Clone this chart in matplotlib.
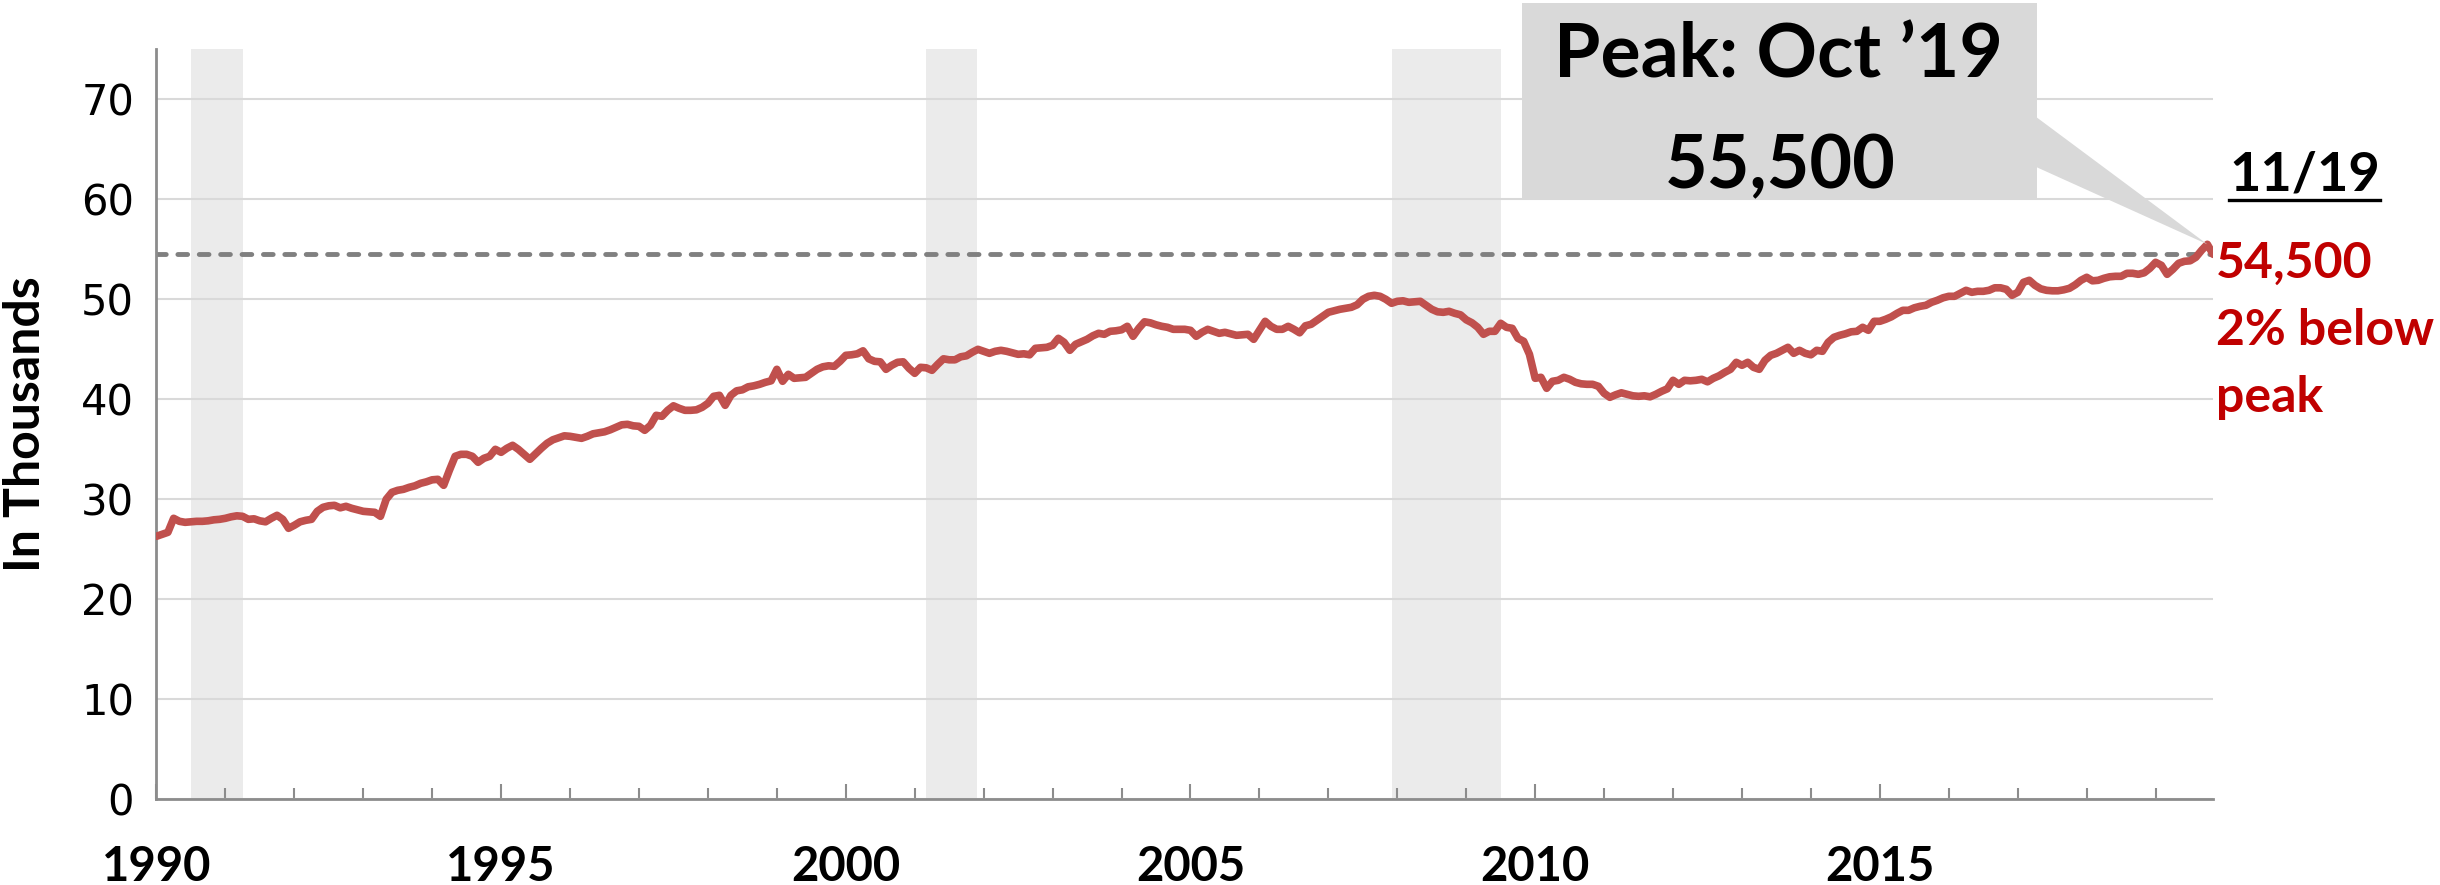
import numpy as np
import matplotlib
matplotlib.use('Agg')
import matplotlib.pyplot as plt
from matplotlib.patches import Rectangle, Polygon
from matplotlib.lines import Line2D
from matplotlib.ticker import MultipleLocator

plt.rcParams['font.family'] = ['Lato', 'DejaVu Sans']

# Monthly values, in thousands (Jan 1990 - Nov 2019)
y1990_94 = [26.3, 26.5, 26.7, 28.1, 27.8, 27.7, 27.75, 27.8, 27.8, 27.85, 27.95, 28.0,
            28.1, 28.25, 28.35, 28.3, 28.0, 28.05, 27.85, 27.75, 28.1, 28.4, 28.0, 27.1,
            27.4, 27.75, 27.9, 28.0, 28.8, 29.2, 29.35, 29.4, 29.15, 29.3, 29.1, 28.95,
            28.8, 28.75, 28.7, 28.3, 30.0, 30.7, 30.9, 31.0, 31.2, 31.35, 31.6, 31.75,
            31.95, 32.0, 31.4, 32.9, 34.3, 34.5, 34.5, 34.3, 33.7, 34.1, 34.3, 35.0]
y1995_99 = [34.7, 35.1, 35.4, 35.0, 34.5, 34.0, 34.55, 35.1, 35.6, 35.95, 36.15, 36.35,
            36.3, 36.2, 36.1, 36.3, 36.55, 36.65, 36.75, 36.95, 37.2, 37.45, 37.5, 37.35,
            37.3, 36.9, 37.4, 38.4, 38.3, 38.9, 39.35, 39.1, 38.9, 38.9, 38.95, 39.2,
            39.6, 40.3, 40.4, 39.4, 40.4, 40.85, 40.95, 41.25, 41.35, 41.5, 41.7, 41.85,
            43.0, 41.8, 42.5, 42.1, 42.15, 42.2, 42.6, 43.0, 43.25, 43.35, 43.3, 43.8]
y2000_04 = [44.4, 44.45, 44.55, 44.85, 44.05, 43.8, 43.75, 43.0, 43.4, 43.7, 43.75, 43.1,
            42.6, 43.2, 43.15, 42.9, 43.5, 44.05, 43.95, 43.95, 44.25, 44.35, 44.7, 45.0,
            44.8, 44.6, 44.8, 44.9, 44.8, 44.65, 44.5, 44.55, 44.45, 45.1, 45.15, 45.2,
            45.4, 46.1, 45.7, 44.9, 45.5, 45.75, 46.0, 46.35, 46.6, 46.5, 46.8, 46.85,
            46.95, 47.3, 46.3, 47.1, 47.75, 47.65, 47.45, 47.3, 47.2, 47.0, 47.0, 47.0]
y2005_09 = [46.9, 46.3, 46.7, 47.0, 46.8, 46.6, 46.7, 46.55, 46.4, 46.45, 46.5, 46.0,
            46.9, 47.8, 47.3, 47.0, 47.0, 47.3, 47.0, 46.65, 47.35, 47.5, 47.9, 48.3,
            48.7, 48.85, 49.0, 49.1, 49.2, 49.45, 50.0, 50.3, 50.4, 50.3, 50.0, 49.6,
            49.8, 49.85, 49.7, 49.75, 49.8, 49.4, 49.0, 48.75, 48.7, 48.8, 48.6, 48.45,
            47.95, 47.65, 47.2, 46.5, 46.8, 46.8, 47.6, 47.2, 47.1, 46.1, 45.8, 44.5]
y2010_14 = [42.1, 42.2, 41.1, 41.8, 41.9, 42.2, 42.0, 41.7, 41.55, 41.5, 41.5, 41.3,
            40.6, 40.2, 40.45, 40.65, 40.5, 40.35, 40.3, 40.35, 40.25, 40.5, 40.8, 41.05,
            41.9, 41.5, 41.9, 41.85, 41.9, 42.0, 41.75, 42.1, 42.35, 42.7, 43.0, 43.7,
            43.4, 43.7, 43.2, 43.0, 43.9, 44.4, 44.6, 44.9, 45.2, 44.6, 44.9, 44.6,
            44.45, 44.9, 44.8, 45.7, 46.2, 46.4, 46.55, 46.75, 46.8, 47.2, 46.9, 47.8]
y2015_19 = [47.8, 48.0, 48.25, 48.6, 48.9, 48.9, 49.15, 49.3, 49.4, 49.7, 49.9, 50.15,
            50.3, 50.3, 50.6, 50.9, 50.7, 50.8, 50.8, 50.9, 51.15, 51.15, 51.0, 50.4,
            50.7, 51.7, 51.9, 51.4, 51.05, 50.9, 50.85, 50.85, 50.95, 51.1, 51.45, 51.9,
            52.2, 51.85, 51.9, 52.1, 52.25, 52.3, 52.3, 52.6, 52.6, 52.5, 52.65, 53.1,
            53.7, 53.4, 52.5, 53.0, 53.6, 53.8, 53.85, 54.2, 54.9, 55.5, 54.5]

# recession periods (decimal years)
recessions = [(1990.5, 1991.25), (2001.17, 2001.9), (2007.92, 2009.5)]
current_level = 54.5

values = np.array(y1990_94 + y1995_99 + y2000_04 + y2005_09 + y2010_14 + y2015_19)
years = 1990 + np.arange(len(values)) / 12

fig = plt.figure(figsize=(24.4, 8.85), dpi=100)
ax = fig.add_axes([0.0641, 0.0968, 0.8429, 0.8475])

for start, end in recessions:
    ax.axvspan(start, end, color='#EBEBEB', lw=0, zorder=0.2)

ax.axhline(current_level, color='#808080', lw=3.5, dashes=(2.0, 2.4),
           dash_capstyle='round', zorder=2)
ax.plot(years, values, color='#C0504D', lw=5.5, solid_joinstyle='round',
        solid_capstyle='round', zorder=3)

ax.set_xlim(years[0], years[-1])
ax.set_ylim(0, 75)
ax.set_yticks(range(0, 71, 10))
ax.yaxis.grid(True, color='#D9D9D9', lw=1.5)
ax.set_axisbelow(True)

for side in ['top', 'right']:
    ax.spines[side].set_visible(False)
for side in ['left', 'bottom']:
    ax.spines[side].set_color('#8C8C8C')
    ax.spines[side].set_linewidth(2)

ax.set_xticks(range(1990, 2016, 5))
ax.xaxis.set_minor_locator(MultipleLocator(1))
ax.tick_params(axis='x', which='major', direction='in', length=11, width=1.5,
               color='#8C8C8C', pad=33, labelsize=34)
ax.tick_params(axis='x', which='minor', direction='in', length=8, width=1.5,
               color='#8C8C8C')
for lab in ax.get_xticklabels():
    lab.set_fontweight('bold')
ax.tick_params(axis='y', length=0, pad=16, labelsize=30)
for lab in ax.get_yticklabels():
    lab.set_fontfamily('DejaVu Sans')

fig.text(0.0103, 0.521, 'In Thousands', rotation=90, ha='center', va='center',
         fontsize=36, fontweight='bold')

# callout box for the peak
fig.patches.append(Rectangle((0.6238, 0.7763), 0.2111, 0.2203, transform=fig.transFigure,
                             facecolor='#D9D9D9', edgecolor='none', zorder=5))
peak_i = int(np.argmax(values))
tip = fig.transFigure.inverted().transform(ax.transData.transform((years[peak_i], values[peak_i])))
fig.patches.append(Polygon([(0.8345, 0.8678), (0.8345, 0.8113), tuple(tip)],
                           closed=True, transform=fig.transFigure,
                           facecolor='#D9D9D9', edgecolor='none', zorder=5))
fig.text(0.7287, 0.937, 'Peak: Oct \u201919', ha='center', va='center',
         fontsize=54, fontweight='bold', zorder=6)
fig.text(0.7295, 0.812, '55,500', ha='center', va='center',
         fontsize=53, fontweight='bold', zorder=6)

fig.text(0.9445, 0.7853, '11/19', ha='center', va='baseline',
         fontsize=39, fontweight='bold')
fig.lines.append(Line2D([0.9135, 0.9755], [0.774, 0.774], transform=fig.transFigure,
                        color='black', lw=2.4))

red = '#C00000'
fig.text(0.9082, 0.6859, '54,500', ha='left', va='baseline', fontsize=36,
         fontweight='bold', color=red)
fig.text(0.9082, 0.6102, '2% below', ha='left', va='baseline', fontsize=36,
         fontweight='bold', color=red)
fig.text(0.9082, 0.5345, 'peak', ha='left', va='baseline', fontsize=36,
         fontweight='bold', color=red)

fig.savefig('out.png', dpi=100)
